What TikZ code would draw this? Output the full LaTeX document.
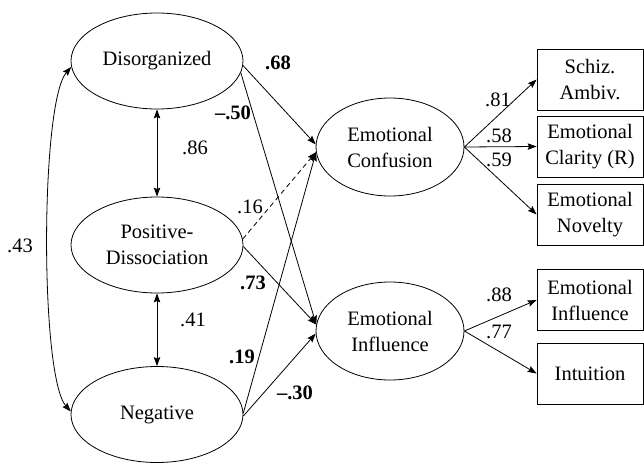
\documentclass[tikz,border=0pt]{standalone}
\usepackage{fontspec}
\setmainfont{Liberation Serif}
\usetikzlibrary{arrows.meta,shapes.geometric}
\begin{document}
\begin{tikzpicture}[x=1pt,y=-1pt,
  font=\fontsize{20.5}{26}\selectfont,
  every path/.style={line width=0.8pt},
  latent/.style={draw,ellipse,inner sep=0pt,align=center},
  factor/.style={latent,minimum width=172pt,minimum height=96pt},
  outcome/.style={latent,minimum width=148pt,minimum height=98pt},
  indicator/.style={draw,rectangle,inner sep=0pt,minimum width=106pt,minimum height=61pt,align=center},
  path/.style={-{Stealth[length=9pt,width=6.5pt,inset=1.5pt]}},
  corr/.style={{Stealth[length=9pt,width=6.5pt,inset=1.5pt]}-{Stealth[length=9pt,width=6.5pt,inset=1.5pt]}},
  coef/.style={inner sep=0pt},
  bcoef/.style={inner sep=0pt,font=\fontsize{20.5}{26}\selectfont\bfseries}]
\useasboundingbox (0,0) rectangle (644,463);

% latent factors
\node[factor] (dis) at (157,61) {Disorganized};
\node[factor] (pd) at (157,245) {Positive-\\Dissociation};
\node[factor] (neg) at (157,414.5) {Negative};
\node[outcome] (ec) at (390,147) {Emotional\\Confusion};
\node[outcome] (ei) at (390,331) {Emotional\\Influence};

% observed indicators
\node[indicator] (schiz) at (590,79.5) {Schiz.\\Ambiv.};
\node[indicator] (clar) at (590,146.5) {Emotional\\Clarity (R)};
\node[indicator] (nov) at (590,214.5) {Emotional\\Novelty};
\node[indicator] (einf) at (590,300) {Emotional\\Influence};
\node[indicator] (intu) at (590,373.5) {Intuition};

% correlations among the factors
\draw[corr] (dis.south) -- (pd.north);
\draw[corr] (pd.south) -- (neg.north);
\draw[corr] (dis.184) .. controls +(-31,35) and +(-31,-35) .. (neg.178);

% structural paths
\draw[path] (dis.-3) -- (ec.178);
\draw[path] (dis.-8) -- (ei.175);
\draw[path,dash pattern=on 5pt off 3.5pt] (pd.4) -- (ec.184);
\draw[path] (pd.-1) -- (ei.175);
\draw[path] (neg.1) -- (ec.184);
\draw[path] (neg.-1) -- (ei.182);

% loadings
\draw[path] (ec.east) -- (schiz.west);
\draw[path] (ec.east) -- (clar.west);
\draw[path] (ec.east) -- (nov.west);
\draw[path] (ei.east) -- (einf.west);
\draw[path] (ei.east) -- (intu.west);

% coefficients
\node[bcoef] (c68) at (278,63) {.68};
\node[bcoef] (c50) at (233,113) {–.50};
\node[coef] (c86) at (195,148) {.86};
\node[coef] (c16) at (250,207) {.16};
\node[coef] (c43) at (20,246) {.43};
\node[bcoef] (c73) at (253,283) {.73};
\node[coef] (c41) at (193,320) {.41};
\node[bcoef] (c19) at (242,357) {.19};
\node[bcoef] (c30) at (295,393) {–.30};
\node[coef] (c81) at (498,100) {.81};
\node[coef] (c58) at (499,136) {.58};
\node[coef] (c59) at (499,160) {.59};
\node[coef] (c88) at (499,295) {.88};
\node[coef] (c77) at (499,332) {.77};
\end{tikzpicture}
\end{document}
